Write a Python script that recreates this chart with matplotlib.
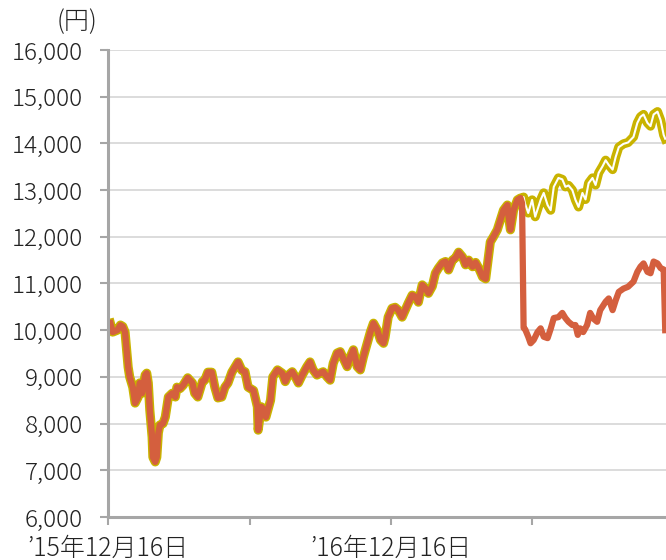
import matplotlib
matplotlib.use("Agg")
import matplotlib.pyplot as plt
from matplotlib.ticker import StrMethodFormatter
import pandas as pd

plt.rcParams['font.family'] = ['Noto Sans CJK JP', 'DejaVu Sans']
plt.rcParams['font.weight'] = 300

# 共通部分（分割前）
common_dates = [
    "2015-12-19", "2015-12-22", "2015-12-28", "2016-01-01", "2016-01-04", "2016-01-07",
    "2016-01-11", "2016-01-13", "2016-01-17", "2016-01-20", "2016-01-24", "2016-01-26",
    "2016-01-29", "2016-02-02", "2016-02-04", "2016-02-06", "2016-02-08", "2016-02-11",
    "2016-02-12", "2016-02-15", "2016-02-17", "2016-02-19", "2016-02-21", "2016-02-25",
    "2016-02-28", "2016-03-01", "2016-03-03", "2016-03-08", "2016-03-12", "2016-03-14",
    "2016-03-18", "2016-03-22", "2016-03-28", "2016-04-03", "2016-04-06", "2016-04-10",
    "2016-04-16", "2016-04-19", "2016-04-23", "2016-04-28", "2016-05-02", "2016-05-06",
    "2016-05-11", "2016-05-15", "2016-05-19", "2016-05-24", "2016-05-28", "2016-06-01",
    "2016-06-06", "2016-06-10", "2016-06-14", "2016-06-21", "2016-06-26", "2016-06-27",
    "2016-07-01", "2016-07-03", "2016-07-07", "2016-07-13", "2016-07-16", "2016-07-22",
    "2016-07-28", "2016-08-01", "2016-08-05", "2016-08-10", "2016-08-14", "2016-08-18",
    "2016-08-23", "2016-08-29", "2016-09-02", "2016-09-06", "2016-09-11", "2016-09-15",
    "2016-09-19", "2016-09-24", "2016-09-28", "2016-10-02", "2016-10-07", "2016-10-11",
    "2016-10-15", "2016-10-20", "2016-10-24", "2016-10-28", "2016-11-02", "2016-11-06",
    "2016-11-10", "2016-11-15", "2016-11-19", "2016-11-23", "2016-11-28", "2016-12-02",
    "2016-12-06", "2016-12-08", "2016-12-12", "2016-12-17", "2016-12-21", "2016-12-25",
    "2016-12-30", "2017-01-03", "2017-01-07", "2017-01-12", "2017-01-16", "2017-01-20",
    "2017-01-25", "2017-01-29", "2017-02-02", "2017-02-07", "2017-02-11", "2017-02-15",
    "2017-02-20", "2017-02-24", "2017-02-28", "2017-03-05", "2017-03-09", "2017-03-13",
    "2017-03-18", "2017-03-22", "2017-03-26", "2017-03-31", "2017-04-04", "2017-04-08",
    "2017-04-13", "2017-04-17", "2017-04-19", "2017-04-23", "2017-04-27", "2017-05-02",
    "2017-05-06", "2017-05-10", "2017-05-15", "2017-05-16", "2017-05-19", "2017-05-23",
    "2017-05-28", "2017-06-01", "2017-06-03",
]
common_vals = [
    10150, 9960, 10000, 10110, 10080, 9960,
    9210, 9000, 8780, 8440, 8570, 8870,
    8650, 9040, 9080, 8870, 8290, 7710,
    7280, 7180, 7280, 7800, 7970, 8000,
    8140, 8360, 8570, 8650, 8570, 8780,
    8750, 8820, 8980, 8870, 8650, 8570,
    8900, 8930, 9100, 9100, 8780, 8550,
    8570, 8780, 8870, 9100, 9210, 9320,
    9140, 9110, 8780, 8710, 8360, 7860,
    8360, 8330, 8140, 8500, 9000, 9150,
    9080, 8900, 9040, 9110, 9000, 8870,
    9040, 9220, 9320, 9150, 9040, 9080,
    9110, 9000, 8930, 9290, 9510, 9540,
    9400, 9220, 9430, 9580, 9220, 9150,
    9430, 9720, 9960, 10150, 10000, 9790,
    9720, 9850, 10280, 10470, 10490, 10430,
    10280, 10430, 10580, 10750, 10720, 10600,
    10970, 10900, 10790, 10940, 11220, 11330,
    11440, 11470, 11290, 11500, 11550, 11670,
    11570, 11400, 11500, 11360, 11450, 11330,
    11140, 11100, 11360, 11890, 12000, 12150,
    12360, 12570, 12680, 12500, 12150, 12570,
    12790, 12830, 12720,
]

# 分割後
red_dates = [
    "2017-06-05", "2017-06-07", "2017-06-11", "2017-06-14", "2017-06-18", "2017-06-23",
    "2017-06-27", "2017-07-01", "2017-07-06", "2017-07-10", "2017-07-14", "2017-07-20",
    "2017-07-25", "2017-07-29", "2017-08-02", "2017-08-07", "2017-08-11", "2017-08-14",
    "2017-08-17", "2017-08-21", "2017-08-26", "2017-08-30", "2017-09-03", "2017-09-08",
    "2017-09-12", "2017-09-19", "2017-09-23", "2017-09-28", "2017-10-02", "2017-10-06",
    "2017-10-12", "2017-10-18", "2017-10-25", "2017-10-30", "2017-11-03", "2017-11-07",
    "2017-11-12", "2017-11-16", "2017-11-20", "2017-11-25", "2017-11-29", "2017-12-03",
    "2017-12-05",
]
red_vals = [
    10050, 10020, 9860, 9720, 9790, 9960,
    10040, 9860, 9830, 10030, 10260, 10280,
    10370, 10260, 10180, 10110, 10110, 9900,
    10040, 9960, 10110, 10370, 10250, 10180,
    10430, 10610, 10680, 10430, 10640, 10820,
    10890, 10930, 11040, 11250, 11360, 11430,
    11250, 11220, 11470, 11430, 11330, 11300,
    10000,
]

yellow_dates = [
    "2017-06-05", "2017-06-07", "2017-06-11", "2017-06-16", "2017-06-20", "2017-06-27",
    "2017-07-01", "2017-07-06", "2017-07-10", "2017-07-14", "2017-07-20", "2017-07-25",
    "2017-07-29", "2017-08-02", "2017-08-07", "2017-08-11", "2017-08-15", "2017-08-20",
    "2017-08-24", "2017-08-28", "2017-09-02", "2017-09-06", "2017-09-10", "2017-09-15",
    "2017-09-19", "2017-09-23", "2017-09-28", "2017-10-02", "2017-10-06", "2017-10-12",
    "2017-10-18", "2017-10-25", "2017-10-30", "2017-11-03", "2017-11-07", "2017-11-12",
    "2017-11-16", "2017-11-20", "2017-11-25", "2017-11-29", "2017-12-03", "2017-12-05",
]
yellow_vals = [
    12850, 12700, 12510, 12790, 12430, 12790,
    12940, 12680, 12570, 13070, 13260, 13230,
    13070, 13100, 13000, 12790, 12640, 12940,
    12800, 13150, 13260, 13110, 13370, 13510,
    13640, 13540, 13440, 13710, 13920, 13990,
    14020, 14140, 14440, 14570, 14620, 14440,
    14370, 14620, 14680, 14500, 14180, 14100,
]

tick_dates = ["2015-12-16", "2016-06-16", "2016-12-16", "2017-06-16"]
tick_labels = ["’15年12月16日", "", "’16年12月16日", ""]

yellow_x = pd.to_datetime(common_dates + yellow_dates)
yellow_y = common_vals + yellow_vals
red_x = pd.to_datetime(common_dates + red_dates)
red_y = common_vals + red_vals

YELLOW = "#C9B300"
RED = "#D45F3E"
GRAY = "#A6A6A6"

fig = plt.figure(figsize=(6.66, 5.6), dpi=100)
ax = fig.add_axes([0.1622, 0.0768, 0.8378, 0.8339])

ax.plot(yellow_x, yellow_y, color=YELLOW, lw=6.6, solid_joinstyle='round', zorder=3)
ax.plot(yellow_x, yellow_y, color="white", lw=1.5, solid_joinstyle='round', zorder=4)
ax.plot(red_x, red_y, color=RED, lw=4.5, solid_joinstyle='round', zorder=5)

ax.set_ylim(6000, 16000)
ax.set_yticks(range(6000, 16001, 1000))
ax.yaxis.set_major_formatter(StrMethodFormatter('{x:,.0f}'))
ax.set_xlim(pd.Timestamp("2015-12-16"), pd.Timestamp("2017-12-06"))
ax.set_xticks(pd.to_datetime(tick_dates))
ax.set_xticklabels(tick_labels)

ax.grid(axis='y', color="#D9D9D9", lw=1.3, zorder=0)
for s in ['top', 'right']:
    ax.spines[s].set_visible(False)
for s in ['left', 'bottom']:
    ax.spines[s].set_color(GRAY)
    ax.spines[s].set_linewidth(2.2)
    ax.spines[s].set_zorder(6)

ax.tick_params(axis='y', length=6, width=1.5, color=GRAY, labelsize=17.5, pad=12, labelcolor="#222222")
ax.tick_params(axis='x', length=6, width=1.5, color=GRAY, labelsize=18, pad=7, labelcolor="#222222")

fig.text(77 / 666, 1 - 22 / 560, "(円)", fontsize=18, ha='center', va='center', color="#222222")

fig.savefig("out.png", dpi=100)
